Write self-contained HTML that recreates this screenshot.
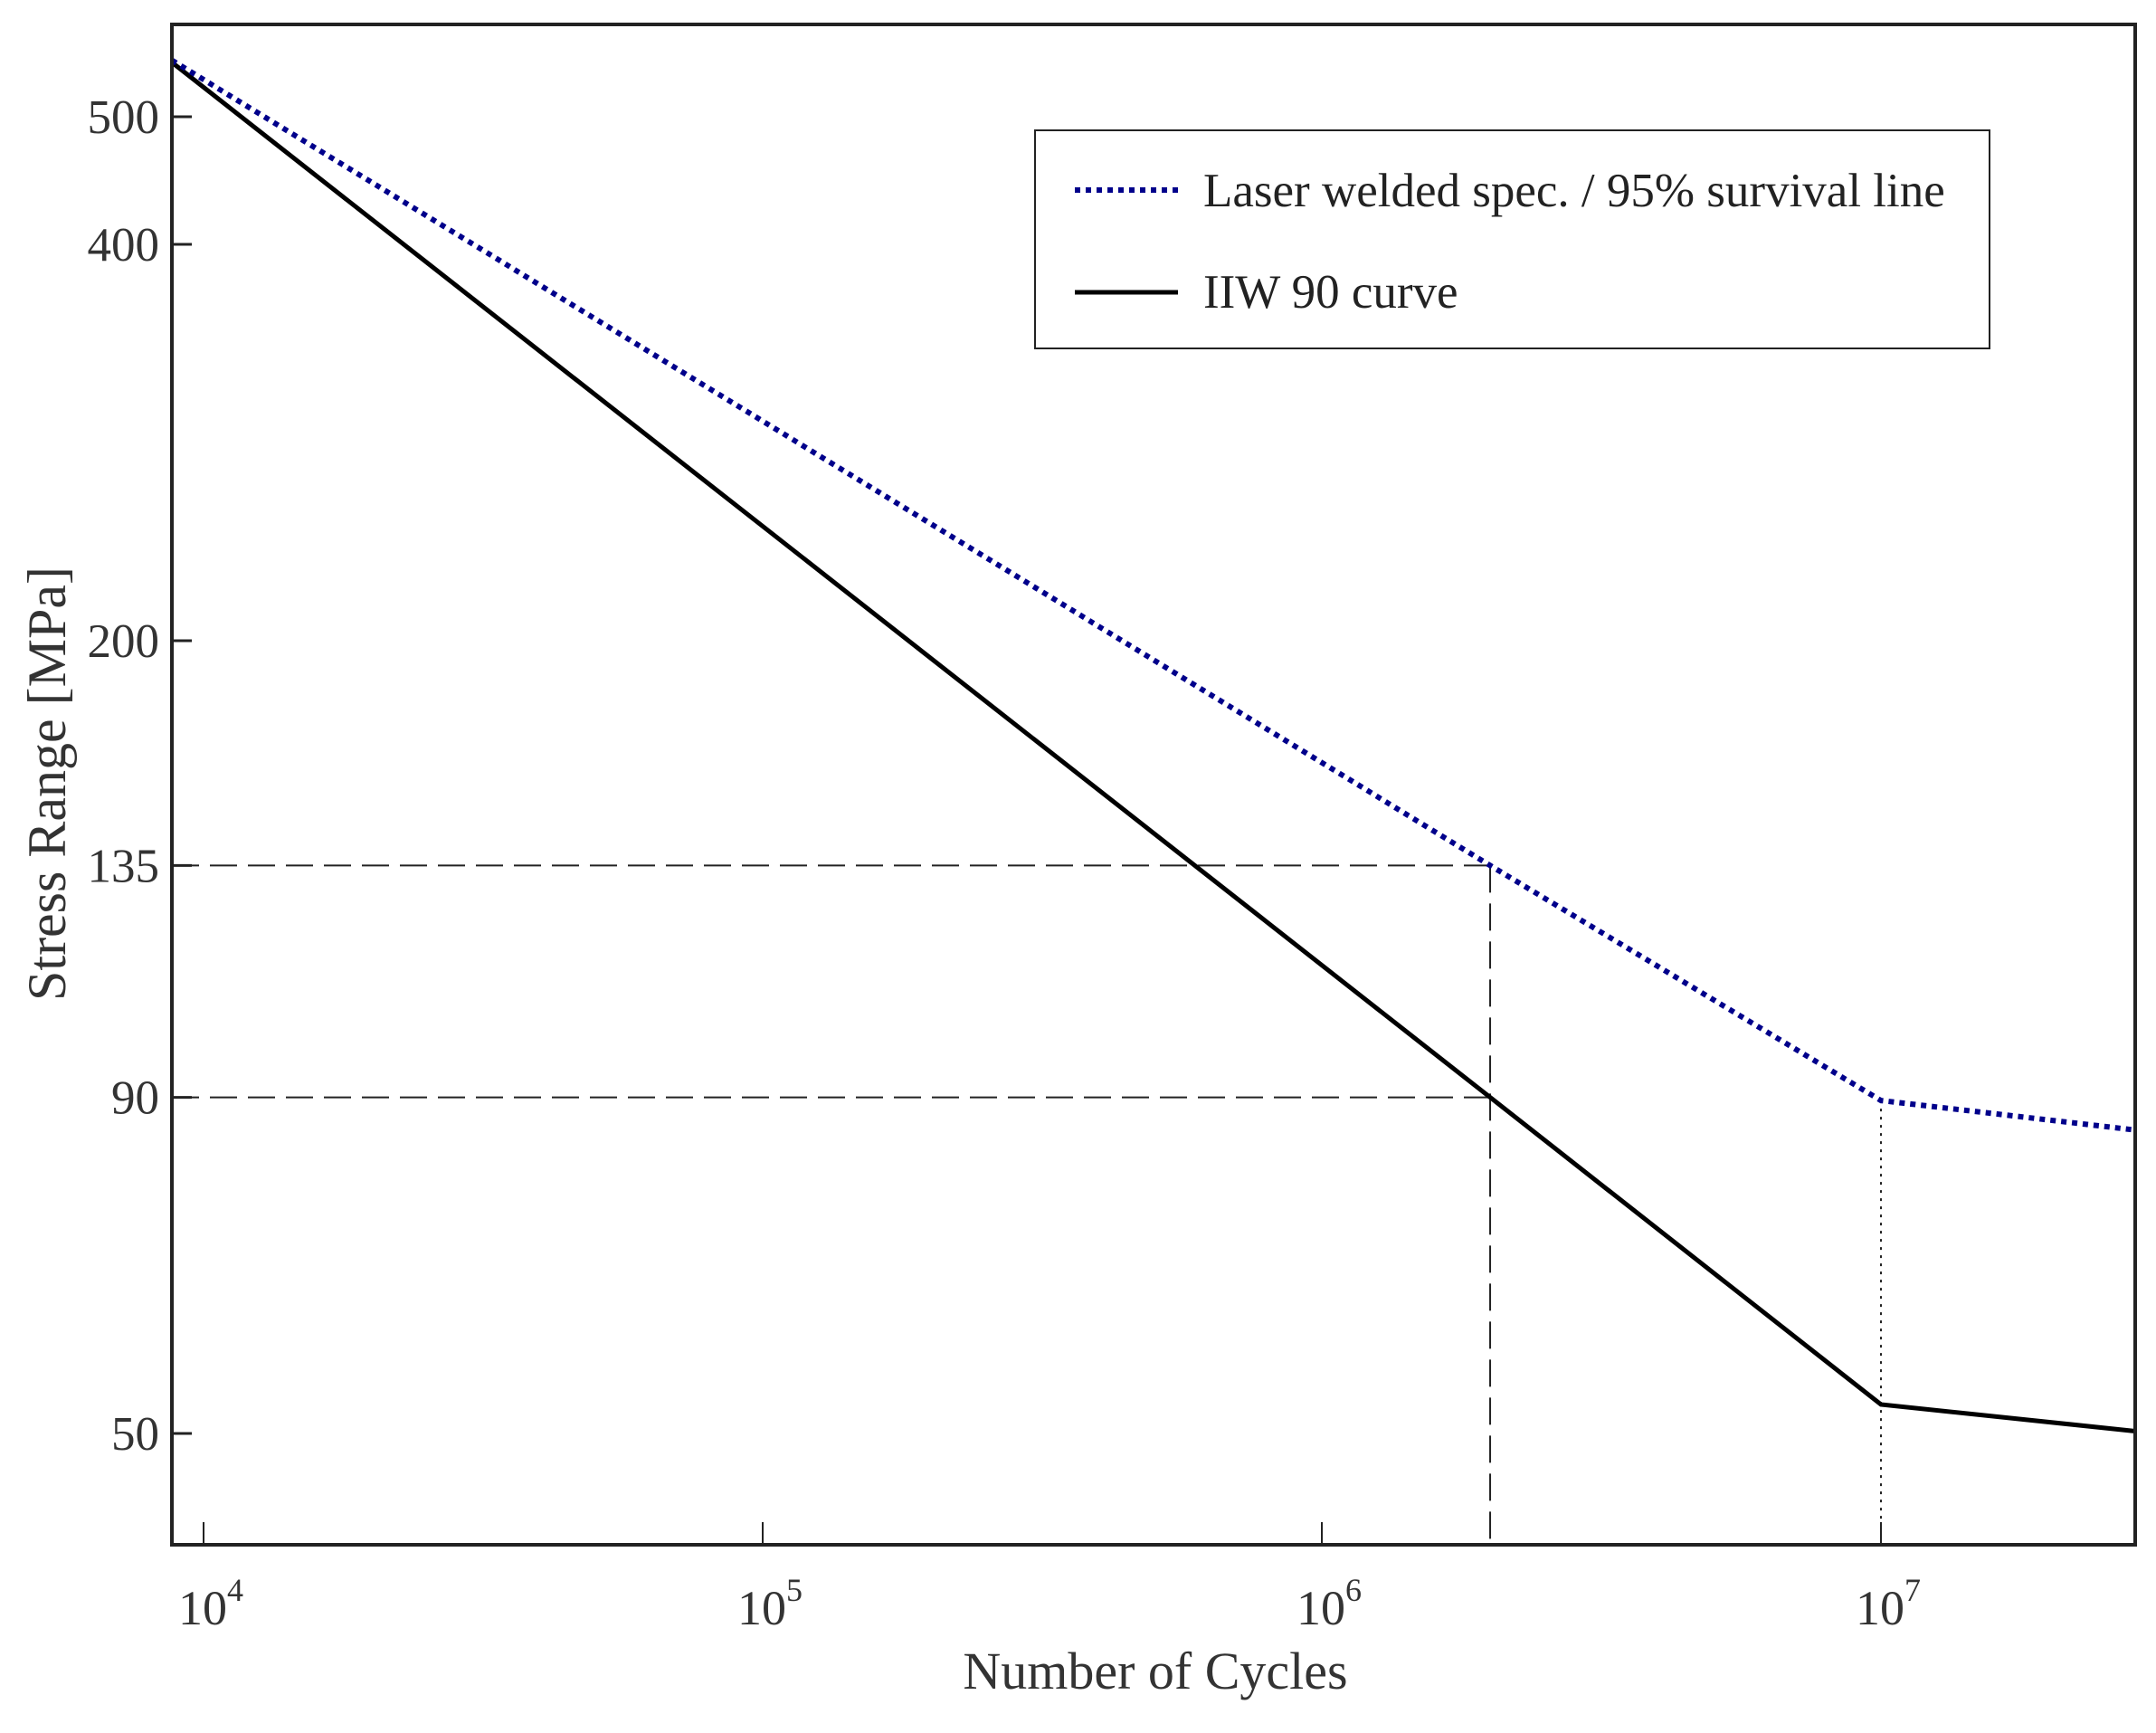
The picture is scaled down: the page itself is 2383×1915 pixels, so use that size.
<!DOCTYPE html>
<html><head><meta charset="utf-8"><style>
html,body{margin:0;padding:0;background:#fff;}
svg text{font-family:"Liberation Serif",serif;}
</style></head><body>
<svg id="chart" width="2383" height="1910" viewBox="0 0 2383 1910" xmlns="http://www.w3.org/2000/svg">
<rect x="0" y="0" width="2383" height="1910" fill="#fff"/>
<g id="plot"></g>
<rect x="1144" y="144" width="1055" height="241" fill="#fff" stroke="#222" stroke-width="2"/>
<line x1="1188" y1="210" x2="1302" y2="210" stroke="#00008b" stroke-width="6" stroke-dasharray="6,6"/>
<text x="1330" y="228" font-size="53" fill="#222">Laser welded spec. / 95% survival line</text>
<line x1="1188" y1="323" x2="1302" y2="323" stroke="#000" stroke-width="5"/>
<text x="1330" y="340" font-size="53" fill="#222">IIW 90 curve</text>
<text x="1277" y="1866" font-size="58" text-anchor="middle" fill="#333">Number of Cycles</text>
<text x="0" y="0" font-size="60" text-anchor="middle" fill="#333" transform="translate(72,866) rotate(-90)">Stress Range [MPa]</text>
</svg>
<script>
const xTicks = [1e4, 1e5, 1e6, 1e7];
const xTickExp = ["4", "5", "6", "7"];
const yTicks = [50, 90, 135, 200, 400, 500];
const iiwN = [8770, 2e6, 1e7, 2.85e7];
const iiwS = [550, 90, 52.6, 50.2];
const laserN = [8770, 2e6, 1e7, 2.85e7];
const laserS = [552, 135, 89.5, 85];
const refN = 2e6;
const refS = [135, 90];
const kneeN = 1e7;
const kneeS = 89.5;

const L=190, R=2360, T=27, B=1707;
function xs(n){return 225+618*(Math.log10(n)-4);}
function ys(v){return 129+1455*Math.log10(500/v);}
const NS="http://www.w3.org/2000/svg";
const g=document.getElementById('plot');
function mk(tag,attrs){const e=document.createElementNS(NS,tag);for(const k in attrs)e.setAttribute(k,attrs[k]);g.appendChild(e);return e;}

refS.forEach((s,i)=>{
  const h=mk('line',{x1:L,y1:ys(s),x2:xs(refN),y2:ys(s),stroke:'#222','stroke-width':2,'stroke-dasharray':'30,12'});
  
  
});
const v=mk('line',{x1:xs(refN),y1:ys(Math.max(...refS)),x2:xs(refN),y2:B,stroke:'#222','stroke-width':2,'stroke-dasharray':'30,12'});


const k=mk('line',{x1:xs(kneeN),y1:ys(kneeS),x2:xs(kneeN),y2:B,stroke:'#222','stroke-width':2,'stroke-dasharray':'3,6'});



const iiw=mk('polyline',{points:iiwN.map((n,i)=>xs(n)+','+ys(iiwS[i])).join(' '),fill:'none',stroke:'#000','stroke-width':5});


const las=mk('polyline',{points:laserN.map((n,i)=>xs(n)+','+ys(laserS[i])).join(' '),fill:'none',stroke:'#00008b','stroke-width':6,'stroke-dasharray':'6,6'});



const fr=mk('rect',{x:L,y:T,width:R-L,height:B-T,fill:'none',stroke:'#222','stroke-width':4});



xTicks.forEach((n,i)=>{
  const x=xs(n);
  const t=mk('line',{x1:x,y1:B,x2:x,y2:B-25,stroke:'#222','stroke-width':2});
  
  
  const tx=mk('text',{x:x+8,y:1795,'font-size':54,'text-anchor':'middle',fill:'#333'});
  
  
  tx.textContent='10';
  const sp=document.createElementNS(NS,'tspan');
  sp.setAttribute('dy','-26');sp.setAttribute('font-size','36');
  sp.textContent=xTickExp[i];
  tx.appendChild(sp);
});
yTicks.forEach(s=>{
  const y=ys(s);
  const t=mk('line',{x1:L,y1:y,x2:L+22,y2:y,stroke:'#222','stroke-width':3});
  
  
  const tx=mk('text',{x:176,y:y+18,'font-size':53,'text-anchor':'end',fill:'#333'});
  
  
  tx.textContent=String(s);
});
</script>
</body></html>
